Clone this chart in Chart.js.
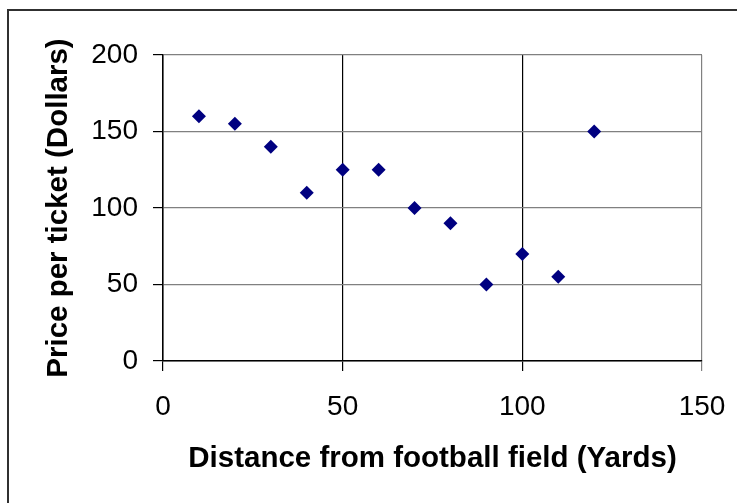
<!DOCTYPE html>
<html>
<head>
<meta charset="utf-8">
<script src="https://cdn.jsdelivr.net/npm/chart.js@4/dist/chart.umd.min.js"></script>
<style>
  html, body { margin: 0; padding: 0; background: #fff; overflow: hidden; }
  #wrap { position: relative; width: 737px; height: 503px; }
  #frame { position: absolute; left: 7px; top: 9px; width: 800px; height: 600px;
           border-top: 2px solid #303030; border-left: 2px solid #303030; }
  #chart { position: absolute; left: 0; top: 0; }
</style>
</head>
<body>
<div id="wrap">
  <div id="frame"></div>
  <canvas id="chart" width="737" height="503"></canvas>
</div>
<script>
// distance from the field (yards) and ticket price (dollars)
let distances = [10, 20, 30, 40, 50, 60, 70, 80, 90, 100, 110, 120];
let prices = [160, 155, 140, 110, 125, 125, 100, 90, 50, 70, 55, 150];

let xTicks = [0, 50, 100, 150];
let yTicks = [0, 50, 100, 150, 200];

let xTitle = "Distance from football field (Yards)";
let yTitle = "Price per ticket (Dollars)";

let fontFamily = "'Liberation Sans', Arial, sans-serif";

function buildPoints() {
    let points = [];
    for (let i = 0; i < distances.length; i++) {
        points.push({x: distances[i], y: prices[i]});
    }
    return points;
}

new Chart(document.getElementById("chart"), {
    type: "scatter",
    data: {
        datasets: [{
            data: buildPoints(),
            pointStyle: "rectRot",
            pointRadius: 7,
            backgroundColor: "#000080",
            borderColor: "#000080",
            borderWidth: 0
        }]
    },
    options: {
        responsive: false,
        animation: false,
        layout: {padding: {left: 0, top: 55, right: 35, bottom: 0}},
        plugins: {legend: {display: false}, tooltip: {enabled: false}},
        scales: {
            x: {
                type: "linear",
                min: xTicks[0],
                max: xTicks[xTicks.length - 1],
                afterBuildTicks: function (scale) {
                    scale.ticks = xTicks.map(v => ({value: v}));
                },
                afterFit: function (scale) {
                    scale.height = 142;
                    scale.paddingLeft = 0;
                    scale.paddingRight = 0;
                },
                grid: {
                    color: ctx => (ctx.tick && ctx.tick.value === 150) ? "#808080" : "#000",
                    lineWidth: 1.2,
                    tickLength: 10
                },
                border: {color: "#000", width: 1.5},
                ticks: {
                    color: "#000",
                    padding: 19,
                    maxRotation: 0,
                    font: {family: fontFamily, size: 28}
                },
                title: {
                    display: true,
                    text: xTitle,
                    color: "#000",
                    padding: {top: 0, bottom: 26},
                    font: {family: fontFamily, size: 29.5, weight: "bold"}
                }
            },
            y: {
                type: "linear",
                min: yTicks[0],
                max: yTicks[yTicks.length - 1],
                afterBuildTicks: function (scale) {
                    scale.ticks = yTicks.map(v => ({value: v}));
                },
                afterFit: function (scale) {
                    scale.width = 163;
                    scale.paddingTop = 0;
                    scale.paddingBottom = 0;
                },
                grid: {
                    color: "#808080",
                    lineWidth: 1.2,
                    tickColor: "#000",
                    tickLength: 10
                },
                border: {color: "#000", width: 1.5},
                ticks: {
                    color: "#000",
                    padding: 15,
                    font: {family: fontFamily, size: 28}
                },
                title: {
                    display: true,
                    text: yTitle,
                    color: "#000",
                    padding: {top: 41, bottom: 0},
                    font: {family: fontFamily, size: 29.5, weight: "bold"}
                }
            }
        }
    }
});
</script>
</body>
</html>
